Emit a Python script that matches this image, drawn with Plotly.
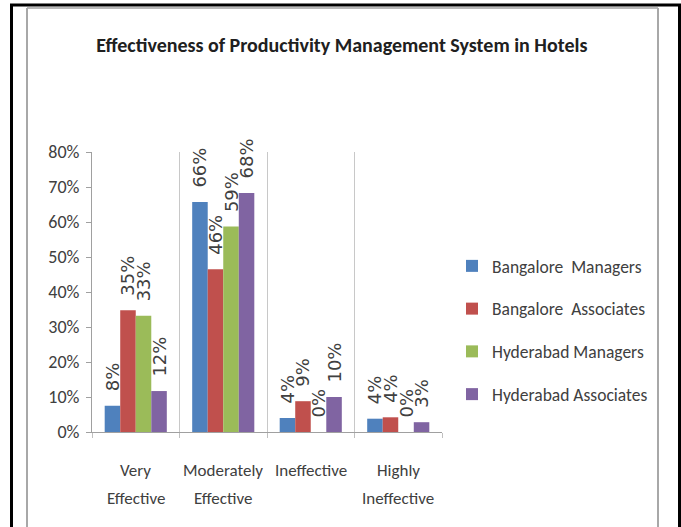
import plotly.graph_objects as go

categories = ["Very Effective", "Moderately Effective", "Ineffective", "Highly Ineffective"]
cat_lines = [["Very", "Effective"], ["Moderately", "Effective"], ["Ineffective"], ["Highly", "Ineffective"]]
series_names = ["Bangalore  Managers", "Bangalore  Associates", "Hyderabad Managers", "Hyderabad Associates"]
colors = ["#4F81BD", "#C0504D", "#9BBB59", "#8064A2"]

bangalore_managers = [0.075, 0.657, 0.040, 0.038]
bangalore_associates = [0.348, 0.465, 0.088, 0.042]
hyderabad_managers = [0.332, 0.587, 0.0, 0.0]
hyderabad_associates = [0.117, 0.683, 0.100, 0.028]

bm_labels = ["8%", "66%", "4%", "4%"]
ba_labels = ["35%", "46%", "9%", "4%"]
hm_labels = ["33%", "59%", "0%", "0%"]
ha_labels = ["12%", "68%", "10%", "3%"]

series_values = [bangalore_managers, bangalore_associates, hyderabad_managers, hyderabad_associates]
series_labels = [bm_labels, ba_labels, hm_labels, ha_labels]

y_ticks = [0, 0.1, 0.2, 0.3, 0.4, 0.5, 0.6, 0.7, 0.8]

W, H = 681, 527
ML, MR, MT, MB = 92, 239, 152, 95
PW = W - ML - MR
PH = H - MT - MB

def px(x):
    return (x - ML) / PW

def py(y):
    return (H - MB - y) / PH

BODY = "Carlito, Lato, Open Sans, sans-serif"

fig = go.Figure()
for name, vals, labs, col in zip(series_names, series_values, series_labels, colors):
    fig.add_trace(go.Bar(
        name=name, x=categories, y=vals,
        marker=dict(color=col, line=dict(width=0)),
        text=["\u00a0\u00a0" + t for t in labs],
        textposition="outside", textangle=-90,
        textfont=dict(family="DejaVu Sans", size=18, color="#404040"),
        cliponaxis=False, constraintext="none",
        legendgroup=name, hoverinfo="skip",
    ))

annotations = []
for cat, lines in zip(categories, cat_lines):
    for i, ln in enumerate(lines):
        annotations.append(dict(
            x=cat, xref="x", y=0, yref="paper", yanchor="middle",
            yshift=-38 - 28 * i, text=ln, showarrow=False,
            font=dict(family=BODY, size=17, color="#404040"),
        ))

shapes = [
    # outer black frame
    dict(type="line", xref="paper", yref="paper", x0=px(10), x1=px(681), y0=py(5), y1=py(5),
         line=dict(color="black", width=3)),
    dict(type="line", xref="paper", yref="paper", x0=px(11.5), x1=px(11.5), y0=py(5), y1=py(530),
         line=dict(color="black", width=3)),
    dict(type="line", xref="paper", yref="paper", x0=px(679.5), x1=px(679.5), y0=py(5), y1=py(530),
         line=dict(color="black", width=3)),
    # inner grey frame
    dict(type="line", xref="paper", yref="paper", x0=px(27), x1=px(658), y0=py(8), y1=py(8),
         line=dict(color="#b8b8b8", width=2)),
    dict(type="line", xref="paper", yref="paper", x0=px(27), x1=px(27), y0=py(8), y1=py(530),
         line=dict(color="#a8a8a8", width=2)),
    dict(type="line", xref="paper", yref="paper", x0=px(658), x1=px(658), y0=py(8), y1=py(530),
         line=dict(color="#a8a8a8", width=2)),
]

fig.update_layout(
    width=W, height=H,
    margin=dict(l=ML, r=MR, t=MT, b=MB, autoexpand=False),
    paper_bgcolor="white", plot_bgcolor="white",
    barmode="group", bargap=0.29, bargroupgap=0,
    title=dict(text="<b>Effectiveness of Productivity Management System in Hotels</b>",
               x=0.502, xanchor="center", y=1 - 45 / H, yanchor="middle",
               font=dict(family=BODY, size=20, color="#202020")),
    xaxis=dict(type="category", tickson="boundaries", showgrid=True, gridcolor="#c8c8c8", gridwidth=1,
               showline=True, linecolor="#a0a0a0", linewidth=1, ticks="outside", ticklen=5,
               tickcolor="#c0c0c0", showticklabels=False, zeroline=False, fixedrange=True),
    yaxis=dict(range=[0, 0.8], tickvals=y_ticks, tickformat=".0%", showgrid=False, zeroline=False,
               showline=True, linecolor="#a0a0a0", linewidth=1, ticks="outside", ticklen=5,
               tickcolor="#a0a0a0", ticklabelstandoff=3, fixedrange=True,
               tickfont=dict(family=BODY, size=18, color="#404040")),
    legend=dict(x=px(452), y=py(248), xanchor="left", yanchor="top", tracegroupgap=17,
                bgcolor="rgba(0,0,0,0)", font=dict(family=BODY, size=17.5, color="#404040"),
                itemwidth=30),
    annotations=annotations, shapes=shapes, showlegend=True,
)

fig.write_html("out.html", config={"displayModeBar": False},
               post_script="document.body.style.margin='0';")
